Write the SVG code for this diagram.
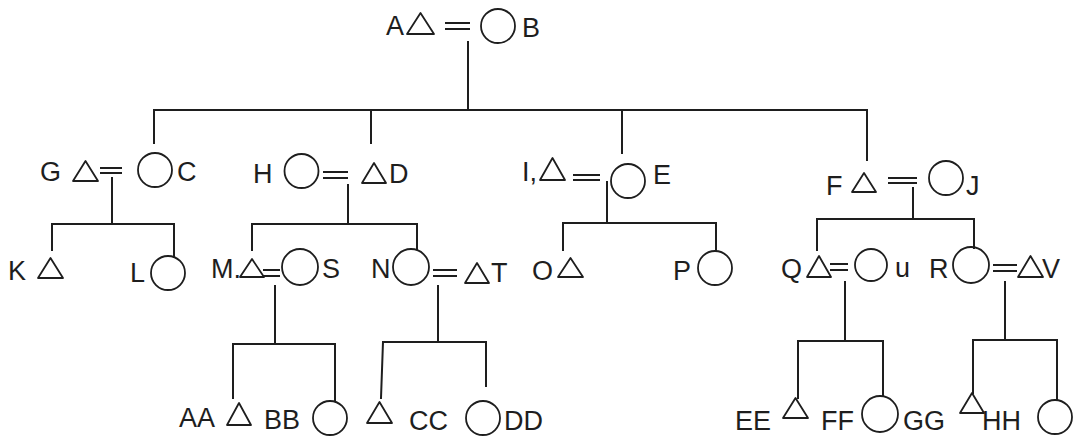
<svg xmlns="http://www.w3.org/2000/svg" width="1074" height="437" viewBox="0 0 1074 437">
  <style>
    .ln { stroke: #1e1e1e; stroke-width: 2; fill: none; stroke-linecap: square; }
    .sym { stroke: #1e1e1e; stroke-width: 1.8; fill: none; stroke-linejoin: round; }
    .eq { stroke: #1e1e1e; stroke-width: 1.8; }
    .lbl { font-family: "Liberation Sans", Arial, sans-serif; font-size: 27px; fill: #1e1e1e; }
  </style>
  <rect width="1074" height="437" fill="#ffffff"/>

  <!-- descent lines -->
  <g id="connectors">
    <!-- A = B children -->
    <path class="ln" d="M468 42 V110 M154 110 H867 M154 110 V143 M371 110 V143 M622 110 V153 M867 110 V160"/>
    <!-- G = C children -->
    <path class="ln" d="M112 178 V224 M52 224 H174 M52 224 V250 M174 224 V257"/>
    <!-- H = D children -->
    <path class="ln" d="M348 185 V224 M252 224 H417 M252 224 V250 M417 224 V249"/>
    <!-- I = E children -->
    <path class="ln" d="M607 182 V223 M563 223 H716 M563 223 V250 M716 223 V250"/>
    <!-- F = J children -->
    <path class="ln" d="M913 188 V219 M817 219 H974 M817 219 V250 M974 219 V248"/>
    <!-- M = S children -->
    <path class="ln" d="M275 286 V344 M233 344 H335 M233 344 V398 M335 344 V400"/>
    <!-- N = T children -->
    <path class="ln" d="M438 286 V342 M383 342 H486 M383 342 L381 398 M486 342 V386"/>
    <!-- Q = u children -->
    <path class="ln" d="M845 282 V341 M798 341 H883 M798 341 V398 M883 341 V396"/>
    <!-- R = V children -->
    <path class="ln" d="M1005 282 V340 M973 340 H1057 M973 340 V393 M1057 340 V400"/>
  </g>

  <!-- generation 1 -->
  <g id="couple-A-B">
    <text class="lbl" x="386" y="35">A</text>
    <polygon class="sym" points="407,34 434,34 420.5,13"/>
    <path class="eq" d="M445 23 H470 M445 29 H470"/>
    <circle class="sym" cx="498" cy="26" r="17"/>
    <text class="lbl" x="522" y="37">B</text>
  </g>

  <!-- generation 2 -->
  <g id="couple-G-C">
    <text class="lbl" x="40" y="181">G</text>
    <polygon class="sym" points="73,181 98,181 85.5,161"/>
    <path class="eq" d="M100 168 H122 M100 173 H122"/>
    <circle class="sym" cx="155" cy="170" r="17"/>
    <text class="lbl" x="177" y="181">C</text>
  </g>
  <g id="couple-H-D">
    <text class="lbl" x="253" y="183">H</text>
    <circle class="sym" cx="301.5" cy="171" r="17"/>
    <path class="eq" d="M323 172 H348 M323 178 H348"/>
    <polygon class="sym" points="362,183 386,183 374,163"/>
    <text class="lbl" x="389" y="183">D</text>
  </g>
  <g id="couple-I-E">
    <text class="lbl" x="522" y="181">I,</text>
    <polygon class="sym" points="540,180 565,180 552.5,158"/>
    <path class="eq" d="M573 175 H600 M573 180 H600"/>
    <circle class="sym" cx="628" cy="181" r="17"/>
    <text class="lbl" x="653" y="184">E</text>
  </g>
  <g id="couple-F-J">
    <text class="lbl" x="826" y="195">F</text>
    <polygon class="sym" points="852,192 876,192 864,173"/>
    <path class="eq" d="M888 178 H917 M888 183 H917"/>
    <circle class="sym" cx="946" cy="178" r="17"/>
    <text class="lbl" x="966" y="195">J</text>
  </g>

  <!-- generation 3 -->
  <g id="person-K">
    <text class="lbl" x="8" y="280">K</text>
    <polygon class="sym" points="38,278 63,278 50.5,258"/>
  </g>
  <g id="person-L">
    <text class="lbl" x="130" y="282">L</text>
    <circle class="sym" cx="168" cy="273" r="17"/>
  </g>
  <g id="couple-M-S">
    <text class="lbl" x="211" y="278">M.</text>
    <polygon class="sym" points="240,277 264,277 252,259"/>
    <path class="eq" d="M263 270 H280 M263 276 H280"/>
    <circle class="sym" cx="300" cy="267" r="18"/>
    <text class="lbl" x="322" y="278">S</text>
  </g>
  <g id="couple-N-T">
    <text class="lbl" x="371" y="278">N</text>
    <circle class="sym" cx="411" cy="267" r="18"/>
    <path class="eq" d="M433 270 H457 M433 276 H457"/>
    <polygon class="sym" points="465,283 489,283 477,263"/>
    <text class="lbl" x="491" y="282">T</text>
  </g>
  <g id="person-O">
    <text class="lbl" x="532" y="280">O</text>
    <polygon class="sym" points="558,277 583,277 570.5,258"/>
  </g>
  <g id="person-P">
    <text class="lbl" x="673" y="280">P</text>
    <circle class="sym" cx="715" cy="268" r="17"/>
  </g>
  <g id="couple-Q-u">
    <text class="lbl" x="781" y="278">Q</text>
    <polygon class="sym" points="807,277 831,277 819,256"/>
    <path class="eq" d="M830 264 H848 M830 270 H848"/>
    <circle class="sym" cx="871" cy="265" r="16"/>
    <text class="lbl" x="895" y="277">u</text>
  </g>
  <g id="couple-R-V">
    <text class="lbl" x="929" y="278">R</text>
    <circle class="sym" cx="971" cy="265" r="18"/>
    <path class="eq" d="M993 265 H1017 M993 271 H1017"/>
    <polygon class="sym" points="1018,277 1043,277 1030.5,256"/>
    <text class="lbl" x="1042" y="278">V</text>
  </g>

  <!-- generation 4 -->
  <g id="person-AA">
    <text class="lbl" x="179" y="427">AA</text>
    <polygon class="sym" points="227,425 251,425 239,403"/>
  </g>
  <g id="person-BB">
    <text class="lbl" x="264" y="429">BB</text>
    <circle class="sym" cx="330" cy="418" r="17"/>
  </g>
  <g id="person-unnamed">
    <polygon class="sym" points="367,423 392,423 379.5,402"/>
  </g>
  <g id="person-CC-DD">
    <text class="lbl" x="409" y="430">CC</text>
    <circle class="sym" cx="483" cy="418" r="17"/>
    <text class="lbl" x="504" y="430">DD</text>
  </g>
  <g id="person-EE">
    <text class="lbl" x="735" y="430">EE</text>
    <polygon class="sym" points="783,418 808,418 795.5,398"/>
  </g>
  <g id="person-FF">
    <text class="lbl" x="821" y="430">FF</text>
    <circle class="sym" cx="880" cy="414" r="18"/>
  </g>
  <g id="person-GG">
    <text class="lbl" x="903" y="430">GG</text>
    <polygon class="sym" points="960,413 984,413 972,393"/>
  </g>
  <g id="person-HH">
    <text class="lbl" x="982" y="430">HH</text>
    <circle class="sym" cx="1055" cy="417" r="17"/>
  </g>
</svg>
